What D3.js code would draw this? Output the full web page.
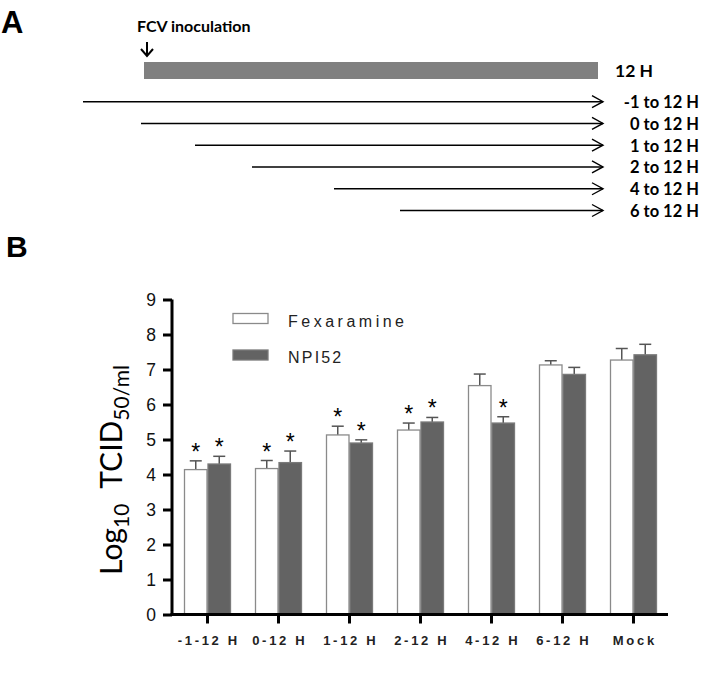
<!DOCTYPE html>
<html><head><meta charset="utf-8">
<script src="https://cdn.jsdelivr.net/npm/d3@7"></script>
<style>body{margin:0;background:#fff}svg{display:block}</style>
</head><body>
<svg id="c" width="728" height="674"></svg>
<script>
// ---- Panel A data ----
const treatLabels = ["-1 to 12 H","0 to 12 H","1 to 12 H","2 to 12 H","4 to 12 H","6 to 12 H"];
const treatStart = [-1,0,1,2,4,6];
const treatEnd = 12;
// schematic (non-proportional) hour axis of the original diagram
const hourKnots = [-1,0,1,2,4,6,12];

// ---- Panel B data ----
const categories = ["-1-12 H","0-12 H","1-12 H","2-12 H","4-12 H","6-12 H","Mock"];
const series = ["Fexaramine","NPI52"];
const fexaramine = [4.14,4.17,5.13,5.27,6.54,7.13,7.27];
const fexErr     = [0.25,0.23,0.25,0.20,0.33,0.12,0.33];
const npi52      = [4.30,4.34,4.90,5.50,5.47,6.86,7.42];
const npiErr     = [0.22,0.33,0.09,0.13,0.18,0.20,0.30];
const fexSig     = [1,1,1,1,0,0,0];
const npiSig     = [1,1,1,1,1,0,0];
const yTicks = [0,1,2,3,4,5,6,7,8,9];

const svg = d3.select("#c");
const calibri = "Lato, 'Open Sans', sans-serif";
const arial = "'Liberation Sans', Arial, sans-serif";

// ================= Panel A =================
svg.append("text").attr("x",1).attr("y",33).text("A")
  .attr("font-family",arial).attr("font-weight","bold").attr("font-size",31);

const hx = d3.scaleLinear().domain(hourKnots).range([83,141,195,252,334,400,603]);
const rowY = d3.scalePoint().domain(treatLabels).range([101.7,210.5]);

svg.append("text").attr("x",137).attr("y",31.5).text("FCV inoculation")
  .attr("font-family",calibri).attr("font-weight","bold").attr("font-size",16);
svg.append("path").attr("d",`M${hx(0)+6},42V56M${hx(0)},49L${hx(0)+6},56L${hx(0)+12},49`)
  .attr("fill","none").attr("stroke","#000").attr("stroke-width",2);

svg.append("rect").attr("x",hx(0)+3).attr("y",62).attr("width",hx(treatEnd)-5-hx(0)-3).attr("height",17)
  .attr("fill","#808080");
svg.append("text").attr("x",615).attr("y",77).text("12 H")
  .attr("font-family",calibri).attr("font-weight","bold").attr("font-size",17.5);

const rows = svg.append("g").selectAll("g").data(treatLabels).join("g");
rows.append("line")
  .attr("x1",(d,i)=>hx(treatStart[i])).attr("x2",hx(treatEnd))
  .attr("y1",d=>rowY(d)).attr("y2",d=>rowY(d))
  .attr("stroke","#000").attr("stroke-width",1.4);
rows.append("path")
  .attr("d",d=>`M${hx(treatEnd)-11},${rowY(d)-6}L${hx(treatEnd)},${rowY(d)}L${hx(treatEnd)-11},${rowY(d)+6}`)
  .attr("fill","none").attr("stroke","#000").attr("stroke-width",1.4);
rows.append("text").attr("x",699).attr("y",d=>rowY(d)+6.5).attr("text-anchor","end").text(d=>d)
  .attr("font-family",calibri).attr("font-weight","bold").attr("font-size",16.5);

// ================= Panel B =================
svg.append("text").attr("x",6).attr("y",257).text("B")
  .attr("font-family",arial).attr("font-weight","bold").attr("font-size",30);

const y = d3.scaleLinear().domain([0,9]).range([614.5,299.5]);
const x = d3.scaleBand().domain(categories).range([172,669]).padding(0);
const xs = d3.scaleBand().domain(series).range([12, x.bandwidth()-12]).padding(0);

const data = categories.map((c,i)=>[
  {cat:c, s:"Fexaramine", v:fexaramine[i], e:fexErr[i], sig:fexSig[i]},
  {cat:c, s:"NPI52", v:npi52[i], e:npiErr[i], sig:npiSig[i]}
]).flat();

const fill = {Fexaramine:"#ffffff", NPI52:"#636363"};
const stroke = {Fexaramine:"#8a8a8a", NPI52:"#7a7a7a"};

// error bars (up only)
const eb = svg.append("g").selectAll("g").data(data).join("g");
eb.append("line")
  .attr("x1",d=>x(d.cat)+xs(d.s)+xs.bandwidth()/2).attr("x2",d=>x(d.cat)+xs(d.s)+xs.bandwidth()/2)
  .attr("y1",d=>y(d.v)).attr("y2",d=>y(d.v+d.e))
  .attr("stroke","#555").attr("stroke-width",1.5);
eb.append("line")
  .attr("x1",d=>x(d.cat)+xs(d.s)+xs.bandwidth()/2-6).attr("x2",d=>x(d.cat)+xs(d.s)+xs.bandwidth()/2+6)
  .attr("y1",d=>y(d.v+d.e)).attr("y2",d=>y(d.v+d.e))
  .attr("stroke","#555").attr("stroke-width",1.5);

// bars
svg.append("g").selectAll("rect").data(data).join("rect")
  .attr("x",d=>x(d.cat)+xs(d.s)+0.5).attr("width",xs.bandwidth()-1)
  .attr("y",d=>y(d.v)).attr("height",d=>y(0)-y(d.v))
  .attr("fill",d=>fill[d.s]).attr("stroke",d=>stroke[d.s]).attr("stroke-width",1.3);

// significance asterisks
svg.append("g").selectAll("text").data(data.filter(d=>d.sig)).join("text")
  .attr("x",d=>x(d.cat)+xs(d.s)+xs.bandwidth()/2).attr("y",d=>y(d.v+d.e)-1)
  .attr("text-anchor","middle").text("*")
  .attr("font-family",arial).attr("font-size",23).attr("fill","#000");

// y axis
const ya = svg.append("g").attr("transform","translate(172,0)")
  .call(d3.axisLeft(y).tickValues(yTicks).tickSize(9).tickPadding(7).tickFormat(d3.format("d")));
ya.select(".domain").attr("stroke","#000").attr("stroke-width",3).attr("d",`M0,${y(9)}V${y(0)+1.5}`);
ya.selectAll(".tick line").attr("stroke","#000").attr("stroke-width",3);
ya.selectAll(".tick text").attr("font-family",arial).attr("font-size",17.5).attr("fill","#111");

// x axis
const xa = svg.append("g").attr("transform",`translate(0,${y(0)})`)
  .call(d3.axisBottom(x).tickSize(9).tickPadding(12));
xa.select(".domain").attr("stroke","#000").attr("stroke-width",3).attr("d",`M${170.5},0H668`);
xa.selectAll(".tick line").attr("stroke","#000").attr("stroke-width",3);
xa.selectAll(".tick text").attr("font-family",arial).attr("font-weight","bold").attr("font-size",13)
  .attr("letter-spacing","2.7px").attr("dx","1.3px").attr("fill","#222");

// y title
const yt = svg.append("text").attr("transform","translate(122,470) rotate(-90)")
  .attr("text-anchor","middle").attr("font-family",calibri).attr("font-size",30).attr("fill","#000");
yt.append("tspan").text("Log");
yt.append("tspan").attr("font-size",21).attr("dy",7).text("10");
yt.append("tspan").attr("dy",-7).text("\u2002TCID");
yt.append("tspan").attr("font-size",21).attr("dy",7).text("50/ml");

// legend
const lg = svg.append("g").selectAll("g").data(series).join("g");
const legY = d3.scalePoint().domain(series).range([313.5,350]);
lg.append("rect").attr("x",233).attr("y",d=>legY(d)).attr("width",35).attr("height",10)
  .attr("fill",d=>fill[d]).attr("stroke",d=>stroke[d]).attr("stroke-width",1.3);
lg.append("text").attr("x",288).attr("y",d=>legY(d)+13).text(d=>d)
  .attr("font-family",arial).attr("font-size",16).attr("fill","#222")
  .attr("letter-spacing",d=>d==="Fexaramine"?"3.5px":"2.2px");
</script>
</body></html>
